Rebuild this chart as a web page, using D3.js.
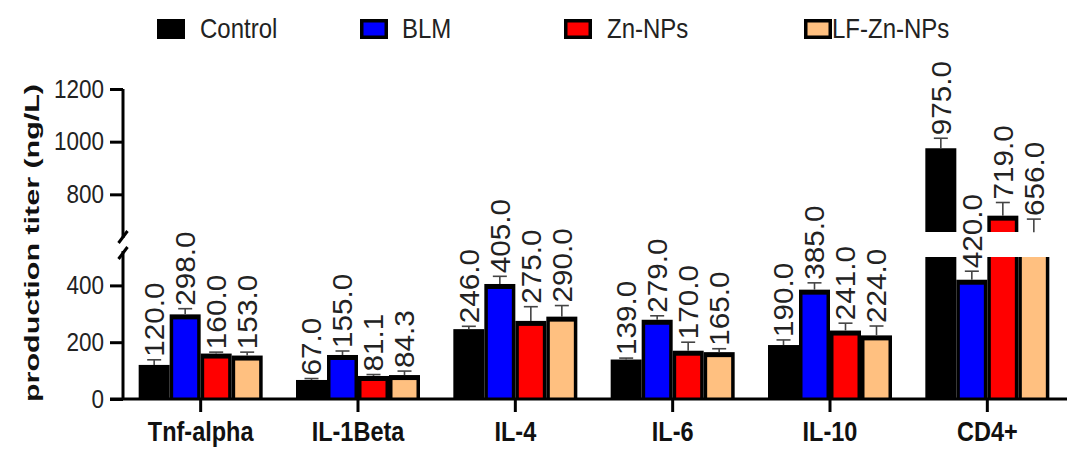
<!DOCTYPE html>
<html>
<head>
<meta charset="utf-8">
<script src="https://cdn.jsdelivr.net/npm/d3@7"></script>
<style>
  html, body { margin: 0; padding: 0; background: #fff; }
  svg { display: block; font-family: "Liberation Sans", Arial, sans-serif; }
</style>
</head>
<body>
<svg id="chart" width="1072" height="449"></svg>
<script>
// Cytokine / CD4+ production titers (ng/L) per treatment group
const categories = ["Tnf-alpha", "IL-1Beta", "IL-4", "IL-6", "IL-10", "CD4+"];
const seriesNames = ["Control", "BLM", "Zn-NPs", "LF-Zn-NPs"];
const seriesColors = ["#000000", "#0000ff", "#ff0000", "#ffc080"];

const control = [120, 67, 246, 139, 190, 975];
const blm     = [298, 155, 405, 279, 385, 420];
const znNPs   = [160, 81.1, 275, 170, 241, 719];
const lfZnNPs = [153, 84.3, 290, 165, 224, 656];

// upper error (SD) for each bar
const controlErr = [18, 5, 10, 5, 18, 38];
const blmErr     = [20, 14, 27, 14, 24, 30];
const znNPsErr   = [5, 5, 50, 30, 26, 50];
const lfZnNPsErr = [12, 14, 39, 12, 33, 50];

const lowerTicks = [0, 200, 400];
const upperTicks = [800, 1000, 1200];

const series = [control, blm, znNPs, lfZnNPs];
const errors = [controlErr, blmErr, znNPsErr, lfZnNPsErr];

const svg = d3.select("#chart");

// broken y axis: lower segment 0–500, upper segment 657–1200
const lowerMax = 500;
const upperMin = 657;
const x = d3.scaleBand().domain(categories).range([122, 1066]).padding(0);
const xInner = d3.scaleBand().domain(seriesNames).range([-62, 62]).padding(0);
const yLow = d3.scaleLinear().domain([0, lowerMax]).range([399, 257]);
const yUp = d3.scaleLinear().domain([upperMin, 1200]).range([232, 89]);

const bars = categories.flatMap((c, i) =>
  seriesNames.map((s, j) => ({ c, s, j, v: series[j][i], e: errors[j][i] }))
);
const bw = xInner.bandwidth();
const barX = d => x(d.c) + x.bandwidth() / 2 + xInner(d.s);
const cx = d => barX(d) + bw / 2;
const side = 3.5, topEdge = 5;

// bars (black outline drawn as an outer rect, colour as an inset rect)
const gBars = svg.append("g");
bars.forEach(d => {
  const vLow = Math.min(d.v, lowerMax);
  const yTop = yLow(vLow);
  const cut = d.v > lowerMax;
  gBars.append("rect")
    .attr("x", barX(d)).attr("y", yTop)
    .attr("width", bw).attr("height", yLow(0) - yTop)
    .attr("fill", "#000");
  gBars.append("rect")
    .attr("x", barX(d) + side).attr("y", yTop + (cut ? 0 : topEdge))
    .attr("width", bw - 2 * side).attr("height", Math.max(0, yLow(0) - yTop - (cut ? 0 : topEdge)))
    .attr("fill", seriesColors[d.j]);
  if (d.v > upperMin) {
    const yT = yUp(d.v), yB = yUp(upperMin);
    gBars.append("rect")
      .attr("x", barX(d)).attr("y", yT)
      .attr("width", bw).attr("height", yB - yT)
      .attr("fill", "#000");
    gBars.append("rect")
      .attr("x", barX(d) + side).attr("y", yT + topEdge)
      .attr("width", bw - 2 * side).attr("height", Math.max(0, yB - yT - topEdge))
      .attr("fill", seriesColors[d.j]);
  }
});

// error bars and value labels
const fmt = d3.format(".1f");
const gErr = svg.append("g");
bars.forEach(d => {
  const ys = d.v > lowerMax ? yUp : yLow;
  const y0 = ys(d.v), y1 = ys(d.v + d.e);
  gErr.append("line")
    .attr("x1", cx(d)).attr("x2", cx(d)).attr("y1", y0).attr("y2", y1)
    .attr("stroke", "#444").attr("stroke-width", 1.6);
  gErr.append("line")
    .attr("x1", cx(d) - 7).attr("x2", cx(d) + 7).attr("y1", y1).attr("y2", y1)
    .attr("stroke", "#444").attr("stroke-width", 1.6);
  gErr.append("text")
    .attr("transform", `translate(${cx(d) + 9.7},${y1 - 3}) rotate(-90) scale(1.1,1)`)
    .attr("font-size", 27).attr("fill", "#222")
    .text(fmt(d.v));
});

// y axes (two segments)
function styleAxis(g) {
  g.select(".domain").remove();
  g.selectAll(".tick line").attr("stroke", "#000").attr("stroke-width", 3);
  g.selectAll(".tick text")
    .attr("font-size", 22.5).attr("fill", "#222")
    .attr("font-family", "Liberation Sans, Arial, sans-serif")
    .attr("transform", "scale(1,1.15)");
}
svg.append("g").attr("transform", "translate(123,0)")
  .call(d3.axisLeft(yLow).tickValues(lowerTicks).tickSize(13).tickPadding(6).tickFormat(d3.format("d")))
  .call(styleAxis);
svg.append("g").attr("transform", "translate(123,0)")
  .call(d3.axisLeft(yUp).tickValues(upperTicks).tickSize(13).tickPadding(6).tickFormat(d3.format("d")))
  .call(styleAxis);

const axisLines = svg.append("g").attr("stroke", "#000").attr("stroke-width", 3);
axisLines.append("line").attr("x1", 123).attr("x2", 123).attr("y1", yUp.range()[1]).attr("y2", 238);
axisLines.append("line").attr("x1", 123).attr("x2", 123).attr("y1", 251).attr("y2", yLow(0));
// break marks
axisLines.append("line").attr("x1", 118.5).attr("y1", 243).attr("x2", 127.5).attr("y2", 231);
axisLines.append("line").attr("x1", 118.5).attr("y1", 259).attr("x2", 127.5).attr("y2", 247);
// x axis baseline
axisLines.append("line").attr("x1", 110).attr("x2", 1067).attr("y1", yLow(0)).attr("y2", yLow(0));

// x axis
svg.append("g").attr("transform", `translate(0,${yLow(0)})`)
  .call(d3.axisBottom(x).tickSize(13))
  .call(g => {
    g.select(".domain").remove();
    g.selectAll(".tick line").attr("stroke", "#000").attr("stroke-width", 3);
    g.selectAll(".tick text")
      .attr("y", 0).attr("dy", 0)
      .attr("transform", "translate(0,42) scale(1,1.19)")
      .attr("font-size", 23.5).attr("font-weight", "bold").attr("fill", "#111")
      .attr("font-family", "Liberation Sans, Arial, sans-serif");
  });

// y axis title
svg.append("text")
  .attr("transform", "translate(39,243) rotate(-90)")
  .attr("text-anchor", "middle")
  .attr("font-size", 21).attr("font-weight", "bold").attr("fill", "#111")
  .attr("textLength", 318).attr("lengthAdjust", "spacingAndGlyphs")
  .text("production titer (ng/L)");

// legend
const legendSwatchX = [157, 360, 564, 804];
const legendTextX = [200, 402, 607, 832];
const gLeg = svg.append("g");
seriesNames.forEach((name, j) => {
  gLeg.append("rect")
    .attr("x", legendSwatchX[j]).attr("y", 19).attr("width", 28).attr("height", 20)
    .attr("fill", "#000");
  gLeg.append("rect")
    .attr("x", legendSwatchX[j] + 3.5).attr("y", 22.5).attr("width", 21).attr("height", 13)
    .attr("fill", seriesColors[j]);
  gLeg.append("text")
    .attr("transform", `translate(${legendTextX[j]},38) scale(1,1.17)`)
    .attr("font-size", 24).attr("fill", "#222")
    .text(name);
});
</script>
</body>
</html>
